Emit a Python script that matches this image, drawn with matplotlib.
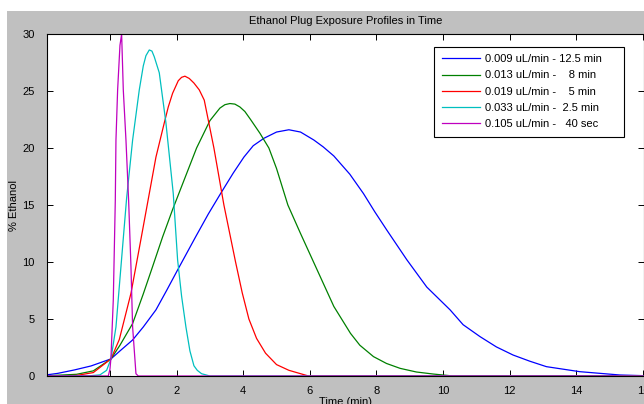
import matplotlib
matplotlib.use("Agg")
import matplotlib.pyplot as plt
from matplotlib.patches import Rectangle

plt.rcParams['font.family'] = ['Liberation Sans', 'DejaVu Sans']
plt.rcParams['font.size'] = 8

# flow rates / exposure times
labels = ['0.009 uL/min - 12.5 min',
          '0.013 uL/min -    8 min',
          '0.019 uL/min -    5 min',
          '0.033 uL/min -  2.5 min',
          '0.105 uL/min -   40 sec']

# profiles (time in min, % ethanol)
blue_x = [-1.9, -1.57, -1.07, -0.57, 0.03, 0.3, 0.68, 1.0, 1.38, 1.7, 2.03, 2.57, 2.95,
          3.32, 3.7, 4.02, 4.3, 4.62, 5.0, 5.37, 5.72, 6.12, 6.4, 6.72, 7.2, 7.61, 7.95,
          8.31, 8.91, 9.51, 10.21, 10.6, 11.11, 11.6, 12.1, 12.6, 13.1, 14.1, 15.3, 16.0]
blue_y = [0.1, 0.23, 0.53, 0.88, 1.5, 2.2, 3.16, 4.3, 5.8, 7.5, 9.3, 12.2, 14.2,
          16.0, 17.8, 19.2, 20.2, 20.85, 21.4, 21.6, 21.4, 20.7, 20.1, 19.3, 17.7, 16.0, 14.4,
          12.8, 10.2, 7.8, 5.8, 4.5, 3.45, 2.55, 1.84, 1.3, 0.82, 0.38, 0.09, 0.03]

green_x = [-1.9, -1.0, -0.5, 0.03, 0.3, 0.68, 1.0, 1.28, 1.58, 1.88, 2.28, 2.6, 3.0, 3.3,
           3.45, 3.6, 3.75, 3.9, 4.05, 4.22, 4.5, 4.77, 5.0, 5.34, 5.72, 6.22, 6.72, 7.22,
           7.5, 7.91, 8.3, 8.71, 9.2, 9.71, 10.3, 16.0]
green_y = [0.02, 0.15, 0.45, 1.5, 2.7, 4.6, 7.2, 9.6, 12.2, 14.6, 17.6, 20.0, 22.4, 23.5,
           23.8, 23.9, 23.85, 23.6, 23.2, 22.5, 21.3, 20.0, 18.2, 15.0, 12.5, 9.3, 6.1, 3.74,
           2.7, 1.7, 1.1, 0.67, 0.35, 0.17, 0.0, 0.0]

red_x = [-1.9, -1.0, -0.5, 0.03, 0.28, 0.63, 0.93, 1.13, 1.38, 1.63, 1.75, 1.88, 2.05,
         2.15, 2.25, 2.38, 2.52, 2.68, 2.83, 3.12, 3.42, 3.77, 3.97, 4.17, 4.4, 4.67, 5.0,
         5.37, 5.96, 16.0]
red_y = [0.0, 0.05, 0.3, 1.5, 3.2, 7.25, 12.0, 15.2, 19.2, 22.2, 23.6, 24.8, 25.9,
         26.2, 26.3, 26.1, 25.7, 25.1, 24.2, 20.0, 15.0, 10.0, 7.3, 5.0, 3.3, 2.0, 1.0,
         0.5, 0.0, 0.0]

cyan_x = [-1.9, -0.6, -0.3, -0.1, 0.03, 0.18, 0.33, 0.5, 0.68, 0.88, 1.0, 1.08, 1.18,
          1.26, 1.33, 1.48, 1.68, 1.9, 2.03, 2.15, 2.28, 2.4, 2.52, 2.62, 2.75, 3.0, 16.0]
cyan_y = [0.0, 0.02, 0.1, 0.5, 1.5, 4.3, 9.6, 15.6, 20.7, 25.1, 27.2, 28.1, 28.6,
          28.5, 28.0, 26.6, 22.2, 16.0, 10.2, 7.0, 4.3, 2.2, 0.9, 0.5, 0.2, 0.0, 0.0]

mag_x = [-1.9, -0.05, 0.0, 0.03, 0.1, 0.16, 0.18, 0.23, 0.3, 0.35, 0.4, 0.48, 0.56,
         0.63, 0.68, 0.78, 0.85, 16.0]
mag_y = [0.0, 0.0, 0.6, 1.6, 6.7, 15.4, 20.7, 25.1, 29.0, 30.0, 25.1, 20.7, 15.4,
         9.6, 4.3, 0.2, 0.0, 0.0]

fig = plt.figure(figsize=(6.44, 4.04), dpi=100, facecolor='white')
fig.patches.append(Rectangle((7 / 644, 0), 1, 1 - 11 / 404, transform=fig.transFigure,
                             facecolor='#c0c0c0', edgecolor='none', zorder=-1))

ax = fig.add_axes([47 / 644, 28 / 404, 597 / 644, 342 / 404])
ax.set_facecolor('white')

ax.plot(blue_x, blue_y, color='#0000ff', lw=0.9, label=labels[0])
ax.plot(green_x, green_y, color='#008000', lw=0.9, label=labels[1])
ax.plot(red_x, red_y, color='#ff0000', lw=0.9, label=labels[2])
ax.plot(cyan_x, cyan_y, color='#00bfbf', lw=0.9, label=labels[3])
ax.plot(mag_x, mag_y, color='#bf00bf', lw=0.9, label=labels[4])

ax.set_xlim(-1.89, 16.03)
ax.set_ylim(0, 30)
ax.set_xticks(range(0, 17, 2))
ax.set_yticks(range(0, 31, 5))
ax.tick_params(direction='in', length=4, width=0.7, top=True, right=True, colors='black')
ax.tick_params(axis='x', pad=7)
ax.tick_params(axis='y', pad=9)
for s in ax.spines.values():
    s.set_linewidth(0.8)

ax.set_title('Ethanol Plug Exposure Profiles in Time', fontsize=8, pad=7)
ax.set_xlabel('Time (min)', labelpad=1)
ax.set_ylabel('% Ethanol', labelpad=2)

ax.legend(loc='upper left', bbox_to_anchor=((434 - 47) / 597, (376 - 50) / 342, 190 / 597, 0.01),
          mode='expand', fancybox=False, edgecolor='black', framealpha=1,
          borderpad=0.7, labelspacing=0.55, handlelength=3.4, handletextpad=0.45,
          borderaxespad=0, fontsize=8)
ax.get_legend().get_frame().set_linewidth(0.8)

fig.savefig('out.png', dpi=100, facecolor=fig.get_facecolor())
